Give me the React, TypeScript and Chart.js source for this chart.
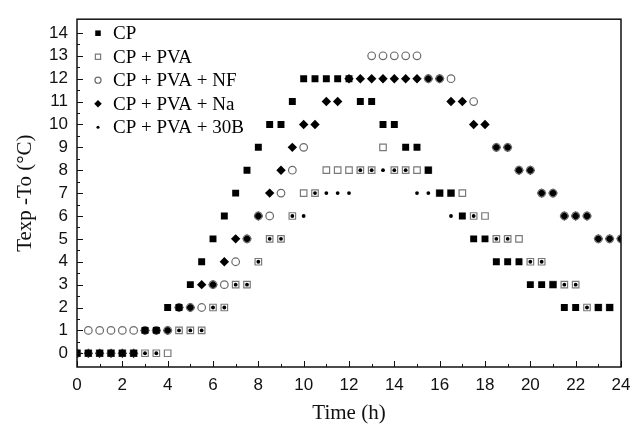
import React, { useEffect, useRef } from 'react';
import { Chart, registerables } from 'chart.js';

Chart.register(...registerables);

// ---- data ----
const hours = [
  0, 0.5, 1, 1.5, 2, 2.5, 3, 3.5, 4, 4.5, 5, 5.5, 6, 6.5, 7, 7.5, 8, 8.5, 9, 9.5,
  10, 10.5, 11, 11.5, 12, 12.5, 13, 13.5, 14, 14.5, 15, 15.5, 16, 16.5, 17, 17.5,
  18, 18.5, 19, 19.5, 20, 20.5, 21, 21.5, 22, 22.5, 23, 23.5, 24,
];

const seriesNames = ['CP', 'CP + PVA', 'CP + PVA + NF', 'CP + PVA + Na', 'CP + PVA + 30B'];

const cp = [
  0, 0, 0, 0, 0, 0, 1, 1, 2, 2, 3, 4, 5, 6, 7, 8, 9, 10, 10, 11,
  12, 12, 12, 12, 12, 11, 11, 10, 10, 9, 9, 8, 7, 7, 6, 5,
  5, 4, 4, 4, 3, 3, 3, 2, 2, null, 2, 2, null,
];

const cpPva = [
  0, 0, 0, 0, 0, 0, 0, 0, 0, 1, 1, 1, 2, 2, 3, 3, 4, 5, 5, 6,
  7, 7, 8, 8, 8, 8, 8, 9, 8, 8, 8, 8, 7, 7, 7, 6,
  6, 5, 5, 5, 4, 4, 3, 3, 3, 2, 2, 2, null,
];

const cpPvaNf = [
  0, 1, 1, 1, 1, 1, 1, 1, 1, 2, 2, 2, 3, 3, 4, 5, 6, 6, 7, 8,
  9, null, null, null, null, null, 13, 13, 13, 13, 13, 12, 12, 12, null, 11,
  null, 9, 9, 8, 8, 7, 7, 6, 6, 6, 5, 5, 5,
];

const cpPvaNa = [
  0, 0, 0, 0, 0, 0, 1, 1, 1, 2, 2, 3, 3, 4, 5, 5, 6, 7, 8, 9,
  10, 10, 11, 11, 12, 12, 12, 12, 12, 12, 12, 12, 12, 11, 11, 10,
  10, 9, 9, 8, 8, 7, 7, 6, 6, 6, 5, 5, 5,
];

const cpPva30b = [
  0, 0, 0, 0, 0, 0, 0, 0, 1, 1, 1, 1, 2, 2, 3, 3, 4, 5, 5, 6,
  6, 7, 7, 7, 7, 8, 8, 8, 8, 8, 7, 7, 7, 6, 6, 6,
  5, 5, 5, 4, 4, 4, 3, 3, 3, 2, 2, 2, null,
];

const xTickValues = [0, 2, 4, 6, 8, 10, 12, 14, 16, 18, 20, 22, 24];
const yTickValues = [0, 1, 2, 3, 4, 5, 6, 7, 8, 9, 10, 11, 12, 13, 14];
const xTitle = 'Time (h)';
const yTitle = 'Texp -To (°C)';

// ---- styles ----
const styles = [
  { pointStyle: 'rect', radius: 4.9, bg: '#000', border: '#000', bw: 0 },
  { pointStyle: 'rect', radius: 4.6, bg: 'rgba(0,0,0,0)', border: '#7a7a7a', bw: 1.2 },
  { pointStyle: 'circle', radius: 3.8, bg: 'rgba(0,0,0,0)', border: '#6a6a6a', bw: 1.2 },
  { pointStyle: 'rectRot', radius: 4.7, bg: '#000', border: '#000', bw: 0 },
  { pointStyle: 'circle', radius: 1.9, bg: '#000', border: '#000', bw: 0 },
];

const allSeries = [cp, cpPva, cpPvaNf, cpPvaNa, cpPva30b];

const toPoints = (vals: (number | null)[]) =>
  hours.map((h, i) => ({ x: h, y: vals[i] }));

const framePlugin = {
  id: 'frameTicks',
  afterDraw(chart: any) {
    const { ctx, chartArea } = chart;
    const { left, right, top, bottom } = chartArea;
    const xs = chart.scales.x;
    const ys = chart.scales.y;
    ctx.save();
    ctx.strokeStyle = '#111';
    ctx.lineWidth = 1;
    ctx.beginPath();
    for (let v = 0; v <= 24; v += 1) {
      const px = Math.round(xs.getPixelForValue(v)) + 0.5;
      const len = v % 2 === 0 ? 6 : 3;
      ctx.moveTo(px, bottom);
      ctx.lineTo(px, bottom - len);
    }
    for (let v = 0; v <= 14.001; v += 0.5) {
      const py = Math.round(ys.getPixelForValue(v)) + 0.5;
      const len = Number.isInteger(v) ? 6 : 3;
      ctx.moveTo(left, py);
      ctx.lineTo(left + len, py);
    }
    ctx.stroke();
    ctx.lineWidth = 1.5;
    ctx.strokeRect(left, top, right - left, bottom - top);

    // legend inside plot area
    ctx.font = '19px "Liberation Serif", "Times New Roman", serif';
    ctx.textBaseline = 'middle';
    ctx.fillStyle = '#000';
    seriesNames.forEach((name, i) => {
      const cy = top + 14 + i * 23.5;
      const cx = left + 21;
      const s = styles[i];
      const r = s.radius * 0.8;
      ctx.beginPath();
      if (s.pointStyle === 'rect') {
        const h = r * Math.SQRT1_2;
        ctx.rect(cx - h, cy - h, 2 * h, 2 * h);
      } else if (s.pointStyle === 'rectRot') {
        ctx.moveTo(cx, cy - r);
        ctx.lineTo(cx + r, cy);
        ctx.lineTo(cx, cy + r);
        ctx.lineTo(cx - r, cy);
        ctx.closePath();
      } else {
        ctx.arc(cx, cy, r, 0, Math.PI * 2);
      }
      if (s.bw > 0) {
        ctx.lineWidth = s.bw;
        ctx.strokeStyle = s.border;
        ctx.stroke();
      } else {
        ctx.fillStyle = s.bg;
        ctx.fill();
      }
      ctx.fillStyle = '#000';
      ctx.fillText(name, left + 36, cy + 1);
    });
    ctx.restore();
  },
};

export default function App() {
  const ref = useRef<HTMLCanvasElement | null>(null);

  useEffect(() => {
    if (!ref.current) return;
    const chart = new Chart(ref.current, {
      type: 'scatter',
      data: {
        datasets: allSeries.map((vals, i) => ({
          label: seriesNames[i],
          data: toPoints(vals),
          showLine: false,
          pointStyle: styles[i].pointStyle as any,
          pointRadius: styles[i].radius,
          pointBackgroundColor: styles[i].bg,
          pointBorderColor: styles[i].border,
          pointBorderWidth: styles[i].bw,
          pointHoverRadius: styles[i].radius,
        })),
      },
      options: {
        animation: false,
        responsive: false,
        devicePixelRatio: 1,
        layout: { padding: { top: 9, right: 20, left: 0, bottom: 0 } },
        plugins: {
          legend: { display: false },
          tooltip: { enabled: false },
        },
        scales: {
          x: {
            type: 'linear',
            min: 0,
            max: 24,
            afterBuildTicks: (scale: any) => {
              scale.ticks = xTickValues.map((v) => ({ value: v }));
            },
            afterFit: (scale: any) => {
              scale.height = 57;
            },
            grid: { display: false, drawTicks: false },
            border: { display: false },
            ticks: {
              padding: 8,
              color: '#111',
              font: { family: 'Liberation Sans', size: 17 },
              maxRotation: 0,
              callback: (v: any) => String(v),
            },
            title: {
              display: true,
              text: xTitle,
              color: '#111',
              font: { family: 'Liberation Serif', size: 21, lineHeight: 1 },
              padding: { top: 0, bottom: 0 },
            },
          },
          y: {
            type: 'linear',
            min: -0.6,
            max: 14.6,
            afterBuildTicks: (scale: any) => {
              scale.ticks = yTickValues.map((v) => ({ value: v }));
            },
            afterFit: (scale: any) => {
              scale.width = 77;
            },
            grid: { display: false, drawTicks: false },
            border: { display: false },
            ticks: {
              padding: 9,
              color: '#111',
              font: { family: 'Liberation Sans', size: 17 },
              callback: (v: any) => String(v),
            },
            title: {
              display: true,
              text: yTitle,
              color: '#111',
              font: { family: 'Liberation Serif', size: 21, lineHeight: 1 },
              padding: { top: 15, bottom: 0 },
            },
          },
        },
      },
      plugins: [framePlugin],
    });
    return () => chart.destroy();
  }, []);

  return (
    <div style={{ position: 'fixed', left: 0, top: 0, width: 641, height: 424, background: '#fff' }}>
      <canvas ref={ref} width={641} height={424} />
    </div>
  );
}
